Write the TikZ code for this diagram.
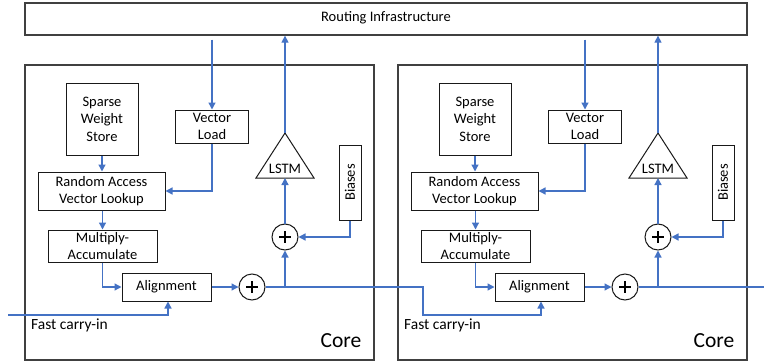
\documentclass[tikz,border=0pt]{standalone}
\usepackage{fontspec}
\setmainfont{Carlito}
\usetikzlibrary{arrows.meta,calc}
\definecolor{flowblue}{RGB}{68,114,196}
\definecolor{framegray}{RGB}{64,64,64}
\begin{document}
\begin{tikzpicture}[x=1pt,y=-1pt,
  box/.style={draw=black!90,line width=1pt,align=center,inner sep=0pt,
    font=\fontsize{14.5}{17.5}\selectfont},
  outline/.style={draw=black!90,line width=1pt},
  frame/.style={draw=framegray,line width=1.5pt},
  label/.style={inner sep=0pt,font=\fontsize{14.5}{17.5}\selectfont},
  flow/.style={draw=flowblue,line width=1.3pt,-{Triangle[length=7pt,width=7pt]}},
  wire/.style={draw=flowblue,line width=1.3pt},
  adder/.style={circle,draw=black!90,line width=1pt,minimum size=26pt,inner sep=0pt},
  plusbar/.style={line width=1.8pt,black}]
\useasboundingbox (0,0) rectangle (764,362);
\node[draw=framegray,line width=1.3pt,minimum width=722pt,minimum height=32pt,inner sep=0pt] (routing) at (386,19) {};
\node[label] (routingtxt) at (386,18) {Routing Infrastructure};
\foreach \c/\dx in {a/0,b/373}{
\begin{scope}[xshift=\dx pt]
  \node[frame,minimum width=349pt,minimum height=295pt,inner sep=0pt] (core\c) at (199.5,212.5) {};
  \node[inner sep=0pt,font=\fontsize{21.5}{24}\selectfont] (coretxt\c) at (341,341) {Core};
  \node[label,anchor=west,font=\fontsize{15.5}{18}\selectfont] (fci\c) at (31,325) {Fast carry-in};
  \node[box,minimum width=72pt,minimum height=72pt] (sws\c) at (102,119) {Sparse\\Weight\\Store};
  \node[box,minimum width=73pt,minimum height=33pt] (vl\c) at (212,126.5) {Vector\\Load};
  \node[box,minimum width=127pt,minimum height=38pt] (ravl\c) at (101.5,191) {Random Access\\Vector Lookup};
  \node[box,minimum width=109pt,minimum height=32pt] (mac\c) at (102.5,246) {Multiply-\\Accumulate};
  \node[box,minimum width=89pt,minimum height=28pt] (align\c) at (166.5,287) {Alignment};
  \node[box,minimum width=22pt,minimum height=75pt] (bias\c) at (350,182.5) {};
  \node[label,rotate=90] (biastxt\c) at (bias\c.center) {Biases};
  \coordinate (lstmtop\c) at (285,133);
  \coordinate (lstmbot\c) at (285,178);
  \draw[outline] (lstmtop\c) -- (314,178) -- (256,178) -- cycle;
  \node[label] (lstmtxt\c) at (285,169) {LSTM};
  \node[adder] (plusone\c) at (285,237) {};
  \node[adder] (plustwo\c) at (252,287) {};
  \draw[plusbar] ($(plusone\c.center)+(-6,0)$) -- ($(plusone\c.center)+(6,0)$)
                 ($(plusone\c.center)+(0,-6)$) -- ($(plusone\c.center)+(0,6)$);
  \draw[plusbar] ($(plustwo\c.center)+(-6,0)$) -- ($(plustwo\c.center)+(6,0)$)
                 ($(plustwo\c.center)+(0,-6)$) -- ($(plustwo\c.center)+(0,6)$);
  \coordinate (br\c) at (285,287);
  \draw[flow] ($(vl\c.north |- routing.south)+(0,4)$) -- (vl\c.north);
  \draw[flow] (lstmtop\c) -- (lstmtop\c |- routing.south);
  \draw[flow] (sws\c.south) -- (sws\c.south |- ravl\c.north);
  \draw[flow] (vl\c.south) |- (ravl\c.east);
  \draw[flow] (mac\c.north |- ravl\c.south) -- (mac\c.north);
  \draw[flow] (mac\c.south) |- (align\c.west);
  \draw[flow] (align\c.east) -- (plustwo\c.west);
  \draw[flow] (br\c) -- (plusone\c.south);
  \draw[flow] (plusone\c.north) -- (lstmbot\c);
  \draw[flow] (bias\c.south) |- (plusone\c.east);
\end{scope}
}
\coordinate (cin) at (8,315);
\coordinate (jog) at (423,315);
\coordinate (cout) at (764,287);
\draw[flow] (cin) -| ($(aligna.south)+(1.5,0)$);
\draw[flow] (plustwoa.east) -| (jog) -| ($(alignb.south)+(1.5,0)$);
\draw[wire] (plustwob.east) -- (cout);
\end{tikzpicture}
\end{document}
